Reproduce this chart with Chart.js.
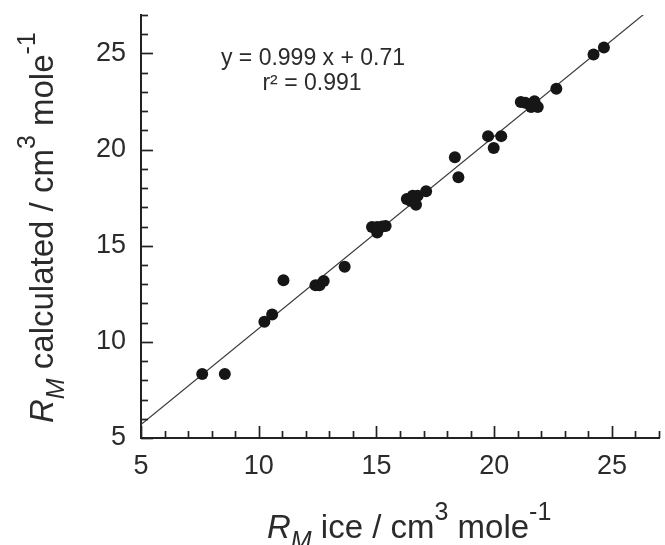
<!DOCTYPE html>
<html><head><meta charset="utf-8">
<script src="https://cdn.jsdelivr.net/npm/chart.js@4.4.1/dist/chart.umd.min.js"></script>
<style>html,body{margin:0;padding:0;background:#fff}#wrap{width:665px;height:545px;position:relative}</style>
</head><body><div id="wrap"><canvas id="c" width="665" height="545"></canvas></div>
<script>
// ---- data ----
const iceRM  = [7.60, 8.56, 10.24, 10.57, 11.05, 12.41, 12.58, 12.76, 13.65,
                14.81, 15.03, 15.03, 15.24, 15.39,
                16.29, 16.44, 16.54, 16.75, 16.68, 17.11,
                18.33, 18.48, 19.74, 20.30, 19.98,
                21.13, 21.32, 21.57, 21.71, 21.85, 22.64, 24.22, 24.66];
const calcRM = [8.33, 8.33, 11.04, 11.42, 13.20, 12.95, 12.95, 13.16, 13.91,
                15.98, 15.98, 15.69, 16.00, 16.03,
                17.43, 17.34, 17.60, 17.60, 17.13, 17.83,
                19.60, 18.56, 20.70, 20.70, 20.08,
                22.48, 22.44, 22.22, 22.51, 22.22, 23.17, 24.95, 25.31];
const fitSlope = 0.999;
const fitIntercept = 0.71;
const fitXRange = [5, 27];
const axisMin = 5, axisMax = 27;
const tickStep = 1;
const majorStep = 5;
const annotationLines = ['y = 0.999 x + 0.71', 'r\u00B2 = 0.991'];

const FONT = '"Liberation Sans", Arial, Helvetica, sans-serif';
const TXT = '#2b2b2b';

const points = iceRM.map((x, i) => ({x: x, y: calcRM[i]}));
const fitLine = fitXRange.map(x => ({x: x, y: fitSlope * x + fitIntercept}));

function drawRich(ctx, segs, x, y) {
  let cx = x;
  segs.forEach(s => {
    ctx.font = (s.italic ? 'italic ' : '') + s.size + 'px ' + FONT;
    ctx.fillText(s.t, cx, y + (s.dy || 0));
    cx += ctx.measureText(s.t).width;
  });
}

const decor = {
  id: 'decor',
  afterDraw(chart) {
    const ctx = chart.ctx, xs = chart.scales.x, ys = chart.scales.y, a = chart.chartArea;
    ctx.save();
    // inward ticks
    ctx.strokeStyle = '#222';
    ctx.lineWidth = 1.7;
    xs.ticks.forEach(t => {
      const px = Math.round(xs.getPixelForValue(t.value)) + 0.5;
      const len = (t.value % majorStep === 0) ? 12 : 7;
      ctx.beginPath(); ctx.moveTo(px, a.bottom); ctx.lineTo(px, a.bottom - len); ctx.stroke();
    });
    ys.ticks.forEach(t => {
      const py = Math.round(ys.getPixelForValue(t.value)) + 0.5;
      const len = (t.value % majorStep === 0) ? 12 : 7;
      ctx.beginPath(); ctx.moveTo(a.left, py); ctx.lineTo(a.left + len, py); ctx.stroke();
    });
    // annotation
    ctx.fillStyle = TXT;
    ctx.textBaseline = 'alphabetic';
    ctx.textAlign = 'center';
    ctx.font = '23px ' + FONT;
    ctx.fillText(annotationLines[0], 313, 65);
    ctx.fillText(annotationLines[1], 312, 90);
    ctx.textAlign = 'left';
    // x title
    drawRich(ctx, [
      {t: 'R', italic: true, size: 33},
      {t: 'M', italic: true, size: 25, dy: 11},
      {t: ' ice / cm', size: 33},
      {t: '3', size: 25, dy: -18},
      {t: ' mole', size: 33},
      {t: '-1', size: 25, dy: -18}
    ], 267, 538);
    // y title
    ctx.save();
    ctx.translate(53, 423);
    ctx.rotate(-Math.PI / 2);
    drawRich(ctx, [
      {t: 'R', italic: true, size: 33},
      {t: 'M', italic: true, size: 25, dy: 11},
      {t: ' calculated / cm', size: 33},
      {t: '3', size: 25, dy: -18},
      {t: ' mole', size: 33},
      {t: '-1', size: 25, dy: -18}
    ], 0, 0);
    ctx.restore();
    ctx.restore();
  }
};

new Chart(document.getElementById('c'), {
  type: 'scatter',
  data: {
    datasets: [
      {
        label: 'data',
        data: points,
        backgroundColor: '#161616',
        borderWidth: 0,
        pointRadius: 6,
        pointHoverRadius: 6,
        order: 0
      },
      {
        type: 'line',
        label: 'fit',
        data: fitLine,
        borderColor: '#3a3a3a',
        borderWidth: 1.2,
        pointRadius: 0,
        fill: false,
        order: 1
      }
    ]
  },
  options: {
    responsive: false,
    devicePixelRatio: 1,
    animation: false,
    layout: {padding: {left: 0, right: 1, top: 15, bottom: 0}},
    plugins: {legend: {display: false}, tooltip: {enabled: false}},
    scales: {
      x: {
        type: 'linear',
        min: axisMin, max: axisMax,
        ticks: {
          stepSize: tickStep,
          autoSkip: false,
          maxRotation: 0,
          padding: 12,
          color: TXT,
          font: {family: FONT, size: 27},
          callback: v => (v % majorStep === 0 && v < 27 ? String(v) : '')
        },
        grid: {display: true, drawOnChartArea: false, drawTicks: false},
        border: {display: true, color: '#222', width: 2},
        afterFit: s => { s.height = 107; s.paddingLeft = 0; s.paddingRight = 0; }
      },
      y: {
        type: 'linear',
        min: axisMin, max: axisMax,
        ticks: {
          stepSize: tickStep,
          autoSkip: false,
          padding: 15,
          color: TXT,
          font: {family: FONT, size: 27},
          callback: v => (v % majorStep === 0 && v < 27 ? String(v) : '')
        },
        grid: {display: true, drawOnChartArea: false, drawTicks: false},
        border: {display: true, color: '#222', width: 2},
        afterFit: s => { s.width = 141; s.paddingTop = 0; s.paddingBottom = 0; }
      }
    }
  },
  plugins: [decor]
});
</script>
</body></html>
